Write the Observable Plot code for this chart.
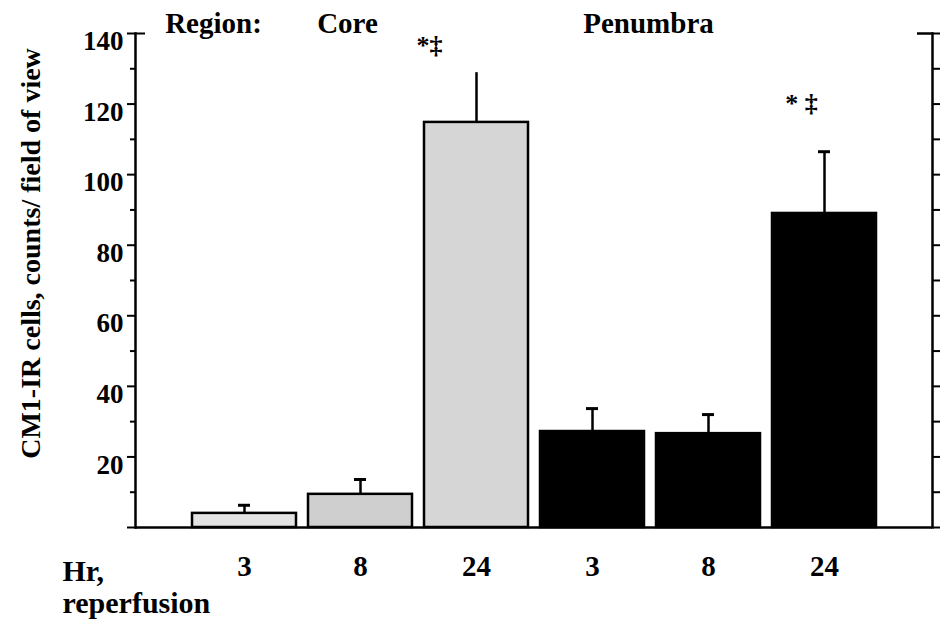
<!DOCTYPE html>
<html>
<head>
<meta charset="utf-8">
<script src="https://cdn.jsdelivr.net/npm/d3@7"></script>
<script src="https://cdn.jsdelivr.net/npm/@observablehq/plot@0.6"></script>
<style>
  html, body { margin: 0; padding: 0; background: #fff; }
  #chart svg { display: block; }
  #chart svg, #chart svg text { font-family: "Liberation Serif", "DejaVu Serif", serif !important; font-weight: bold; }
</style>
</head>
<body>
<div id="chart"></div>
<script>
// ---- data ----
const regions = ["Core", "Core", "Core", "Penumbra", "Penumbra", "Penumbra"];
const hours = [3, 8, 24, 3, 8, 24];
const means = [4.0, 9.4, 114.8, 27.2, 26.6, 89.0];
const errors = [2.3, 4.2, 14.1, 6.5, 5.4, 17.5];
const fills = ["#e3e3e3", "#cfcfcf", "#d6d6d6", "#000000", "#000000", "#000000"];
const hasCap = [true, true, false, true, true, true];
const majorTicks = [0, 20, 40, 60, 80, 100, 120, 140];
const labelTicks = [20, 40, 60, 80, 100, 120, 140];
const minorTicks = [10, 30, 50, 70, 90, 110, 130];
const rightTicks = [0, 10, 20, 30, 40, 50, 60, 70, 80, 90, 100, 110, 120, 130, 140];
const markerKeys = ["Core 24", "Penumbra 24"];
const markerTexts = ["*\u2021", "* \u2021"];
const markerValues = [136.5, 120];
const yTitle = "CM1-IR cells, counts/ field of view";
const xTitle = "Hr,\nreperfusion";

const data = regions.map((r, i) => ({
  key: r + " " + hours[i],
  region: r,
  hour: hours[i],
  mean: means[i],
  top: means[i] + errors[i],
  fill: fills[i],
  cap: hasCap[i]
}));
const keys = data.map(d => d.key);
const hourOf = Object.fromEntries(data.map(d => [d.key, String(d.hour)]));
const markers = markerKeys.map((k, i) => ({key: k, text: markerTexts[i], y: markerValues[i]}));

const font = "'Liberation Serif', 'DejaVu Serif', serif";

const chart = Plot.plot({
  width: 940,
  height: 624,
  marginLeft: 135,
  marginRight: 8,
  marginTop: 33,
  marginBottom: 97,
  style: {fontFamily: font, fontWeight: "bold", fontSize: "28px", color: "#000", background: "#fff"},
  x: {type: "band", domain: keys, range: [180, 889], paddingInner: 0.1, paddingOuter: 0.1},
  y: {domain: [0, 140]},
  marks: [
    // bars
    Plot.barY(data, {x: "key", y: "mean", fill: "fill", stroke: "#000", strokeWidth: 2.5}),
    // error bars (upper only)
    Plot.ruleX(data, {x: "key", y1: "mean", y2: "top", stroke: "#000", strokeWidth: 2.5}),
    Plot.tickY(data.filter(d => d.cap), {x: "key", y: "top", stroke: "#000", strokeWidth: 3, insetLeft: 46, insetRight: 46}),
    // baseline + frame sides
    Plot.ruleY([0], {stroke: "#000", strokeWidth: 2.5}),
    Plot.frame({anchor: "left", stroke: "#000", strokeWidth: 2.5}),
    Plot.frame({anchor: "right", stroke: "#000", strokeWidth: 2.5}),
    // left axis: ticks
    Plot.axisY({ticks: majorTicks, tickSize: 8, tickFormat: () => "", label: null, strokeWidth: 2}),
    Plot.axisY({ticks: minorTicks, tickSize: 5, tickFormat: () => "", label: null, strokeWidth: 2}),
    Plot.axisY({ticks: [140], tickSize: -10, tickFormat: () => "", label: null, strokeWidth: 2}),
    // left axis: labels (hanging slightly below the ticks, as in the reference)
    Plot.axisY({ticks: labelTicks, tickSize: 0, tickPadding: 12, tickFormat: d => String(d), fontSize: 27, dy: 8, label: null}),
    // right axis
    Plot.axisY({anchor: "right", ticks: rightTicks, tickSize: 8, tickFormat: () => "", label: null, strokeWidth: 2}),
    Plot.axisY({anchor: "right", ticks: [140], tickSize: -16, tickFormat: () => "", label: null, strokeWidth: 2.5}),
    // x axis labels
    Plot.axisX({tickSize: 0, tickPadding: 28, tickFormat: k => hourOf[k], fontSize: 29, label: null}),
    // region header
    Plot.text(["Region:"], {x: () => "Core 3", y: () => 140, text: d => d, dx: -31, dy: -10, fontSize: 29, lineAnchor: "middle"}),
    Plot.text(["Core"], {x: () => "Core 8", y: () => 140, text: d => d, dx: -13, dy: -10, fontSize: 29, lineAnchor: "middle"}),
    Plot.text(["Penumbra"], {x: () => "Penumbra 3", y: () => 140, text: d => d, dx: 56, dy: -10, fontSize: 29, lineAnchor: "middle"}),
    // significance markers
    Plot.text(markers.slice(0, 1), {x: "key", y: "y", text: "text", dx: -47, fontSize: 26, lineAnchor: "middle"}),
    Plot.text(markers.slice(1), {x: "key", y: "y", text: "text", dx: -23, fontSize: 26, lineAnchor: "middle"}),
    // axis titles
    Plot.text([yTitle], {frameAnchor: "left", text: d => d, rotate: -90, dx: -104, dy: -27, fontSize: 28, textAnchor: "middle"}),
    Plot.text([xTitle], {frameAnchor: "bottom-left", text: d => d, dx: -73, dy: 30, fontSize: 30, textAnchor: "start", lineAnchor: "top", lineHeight: 1.08})
  ]
});
document.getElementById("chart").appendChild(chart);
</script>
</body>
</html>
